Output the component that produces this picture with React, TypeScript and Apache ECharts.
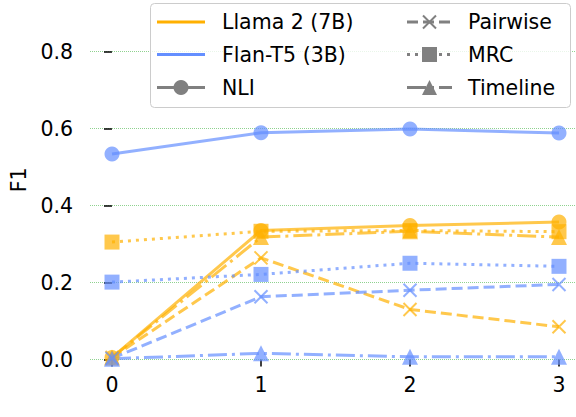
import React, { useEffect, useRef } from "react";
import * as echarts from "echarts";

const xValues = [0, 1, 2, 3];
const xTickLabels = [0, 1, 2, 3];
const yTicks = [0, 0.2, 0.4, 0.6, 0.8];

const models = ["Llama 2 (7B)", "Flan-T5 (3B)"];
const tasks = ["NLI", "Pairwise", "MRC", "Timeline"];

const llamaNLI = [0.005, 0.335, 0.348, 0.357];
const llamaPairwise = [0.005, 0.264, 0.13, 0.085];
const llamaMRC = [0.305, 0.333, 0.335, 0.332];
const llamaTimeline = [0.005, 0.318, 0.333, 0.318];

const flanNLI = [0.534, 0.589, 0.599, 0.588];
const flanPairwise = [0.003, 0.163, 0.18, 0.195];
const flanMRC = [0.201, 0.221, 0.25, 0.242];
const flanTimeline = [0.002, 0.016, 0.007, 0.007];

const ORANGE = "#FFB000";
const BLUE = "#648FFF";
const GRAY = "#808080";
const FONT = "DejaVu Sans";
const FS = 20.5;

const X_PATH = "path://M0,0L10,10M10,0L0,10";

const taskStyle: Record<string, { symbol: string; size: number; dash: any }> = {
  NLI: { symbol: "circle", size: 15, dash: "solid" },
  Pairwise: { symbol: X_PATH, size: 13, dash: [11, 5] },
  MRC: { symbol: "rect", size: 15, dash: [3, 5] },
  Timeline: { symbol: "triangle", size: 16, dash: [19, 5, 3, 5] },
};

const seriesData: { model: string; task: string; color: string; values: number[] }[] = [
  { model: models[0], task: tasks[0], color: ORANGE, values: llamaNLI },
  { model: models[0], task: tasks[1], color: ORANGE, values: llamaPairwise },
  { model: models[0], task: tasks[2], color: ORANGE, values: llamaMRC },
  { model: models[0], task: tasks[3], color: ORANGE, values: llamaTimeline },
  { model: models[1], task: tasks[0], color: BLUE, values: flanNLI },
  { model: models[1], task: tasks[1], color: BLUE, values: flanPairwise },
  { model: models[1], task: tasks[2], color: BLUE, values: flanMRC },
  { model: models[1], task: tasks[3], color: BLUE, values: flanTimeline },
];

function legendGraphics() {
  const els: any[] = [];
  els.push({
    type: "rect",
    shape: { x: 150.5, y: 3.5, width: 420, height: 104, r: 4 },
    style: { fill: "rgba(255,255,255,0.8)", stroke: "#cccccc", lineWidth: 1 },
    z: 100,
  });
  const rows = [22, 54.5, 87.5];
  const addText = (x: number, y: number, t: string) =>
    els.push({
      type: "text",
      x,
      y,
      style: { text: t, fontSize: FS, fontFamily: FONT, fill: "#000", verticalAlign: "middle", align: "left" },
      z: 101,
    });
  const addLine = (x1: number, x2: number, y: number, color: string, dash: any) =>
    els.push({
      type: "line",
      shape: { x1, y1: y, x2, y2: y },
      style: { stroke: color, lineWidth: 3, lineDash: dash === "solid" ? null : dash, lineCap: "butt" },
      z: 101,
    });
  const addMarker = (task: string, cx: number, cy: number) => {
    if (task === "NLI") {
      els.push({ type: "circle", shape: { cx, cy, r: 7.5 }, style: { fill: GRAY }, z: 102 });
    } else if (task === "MRC") {
      els.push({ type: "rect", shape: { x: cx - 7.5, y: cy - 7.5, width: 15, height: 15 }, style: { fill: GRAY }, z: 102 });
    } else if (task === "Timeline") {
      els.push({
        type: "polygon",
        shape: { points: [[cx, cy - 7.5], [cx - 7.5, cy + 7.5], [cx + 7.5, cy + 7.5]] },
        style: { fill: GRAY },
        z: 102,
      });
    } else {
      els.push({ type: "line", shape: { x1: cx - 6.5, y1: cy - 6.5, x2: cx + 6.5, y2: cy + 6.5 }, style: { stroke: GRAY, lineWidth: 2 }, z: 102 });
      els.push({ type: "line", shape: { x1: cx - 6.5, y1: cy + 6.5, x2: cx + 6.5, y2: cy - 6.5 }, style: { stroke: GRAY, lineWidth: 2 }, z: 102 });
    }
  };
  addLine(157, 205, rows[0], ORANGE, "solid");
  addText(222, rows[0], models[0]);
  addLine(157, 205, rows[1], BLUE, "solid");
  addText(222, rows[1], models[1]);
  addLine(157, 205, rows[2], GRAY, "solid");
  addMarker("NLI", 181, rows[2]);
  addText(222, rows[2], tasks[0]);
  const col2 = [tasks[1], tasks[2], tasks[3]];
  col2.forEach((t, i) => {
    addLine(407, 452, rows[i], GRAY, taskStyle[t].dash);
    addMarker(t, 429.5, rows[i]);
    addText(468, rows[i], t);
  });
  return els;
}

export default function App() {
  const ref = useRef<HTMLDivElement>(null);
  useEffect(() => {
    if (!ref.current) return;
    const chart = echarts.init(ref.current, null, { renderer: "svg" });
    const series: any[] = seriesData.map((s) => {
      const st = taskStyle[s.task];
      const isX = s.task === "Pairwise";
      return {
        name: `${s.model} ${s.task}`,
        type: "line",
        data: s.values.map((v, i) => [xValues[i], v]),
        symbol: st.symbol,
        symbolSize: st.size,
        showSymbol: true,
        lineStyle: { color: s.color, width: 3, type: st.dash, opacity: 0.7, cap: "butt" },
        itemStyle: isX
          ? { color: "none", borderColor: s.color, borderWidth: 2, opacity: 0.7 }
          : { color: s.color, borderWidth: 0, opacity: 0.7 },
        emphasis: { disabled: true },
        z: 3,
      };
    });
    chart.setOption({
      animation: false,
      backgroundColor: "#ffffff",
      textStyle: { fontFamily: FONT },
      grid: { left: 90, right: 0, top: 0, bottom: 57.5, containLabel: false },
      xAxis: {
        type: "value",
        min: -22 / 149,
        max: 464 / 149,
        axisLine: { show: false },
        axisTick: { show: true, customValues: xTickLabels, length: 7, lineStyle: { color: "#000", width: 1.5 } },
        axisLabel: {
          customValues: xTickLabels,
          formatter: (v: number) => String(v),
          color: "#000",
          fontSize: FS,
          fontFamily: FONT,
          margin: 15,
        },
        splitLine: { show: false },
      },
      yAxis: {
        type: "value",
        min: 0,
        max: 359.5 / 385,
        name: "F1",
        nameLocation: "middle",
        nameGap: 59,
        nameTextStyle: { color: "#000", fontSize: FS, fontFamily: FONT },
        axisLine: { show: false },
        axisTick: { show: true, customValues: yTicks, length: 8, lineStyle: { color: "#000", width: 1.5 } },
        axisLabel: {
          customValues: yTicks,
          color: "#000",
          fontSize: FS,
          fontFamily: FONT,
          margin: 17,
          formatter: (v: number) => v.toFixed(1),
        },
        splitLine: { show: true, lineStyle: { color: "#8fd28f", width: 1, type: [1, 1] } },
      },
      series,
      graphic: legendGraphics(),
    });
    return () => chart.dispose();
  }, []);
  return <div ref={ref} style={{ width: 576, height: 417, position: "absolute", left: 0, top: 0 }} />;
}
